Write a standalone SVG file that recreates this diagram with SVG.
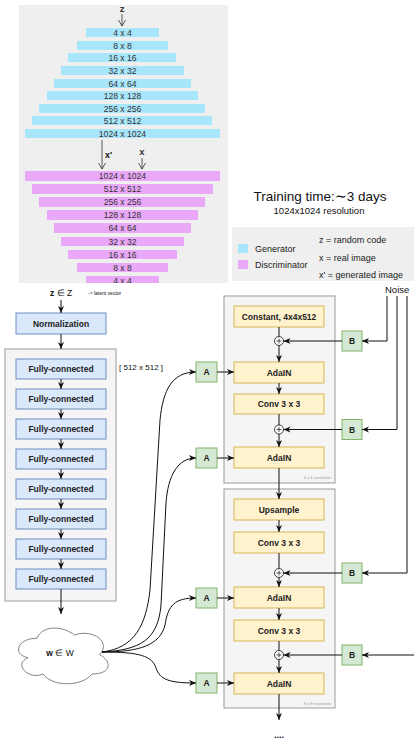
<svg xmlns="http://www.w3.org/2000/svg" width="414" height="740" viewBox="0 0 414 740">
<style>
text{font-family:"Liberation Sans",Arial,Helvetica,sans-serif;fill:#111}
.bar text,.pt{font-size:8.6px;fill:#333;text-anchor:middle}
.gen{fill:#a8e6fb}
.dis{fill:#eaa8f8}
.blue{fill:#dae8fc;stroke:#6c8ebf;stroke-width:1}
.yel{fill:#fff2cc;stroke:#d6b656;stroke-width:1}
.grn{fill:#d5e8d4;stroke:#82b366;stroke-width:1}
.cont{fill:#f5f5f5;stroke:#9a9a9a;stroke-width:1}
.lbl{font-size:8.5px;font-weight:bold;text-anchor:middle;fill:#222}
.ln{fill:none;stroke:#111;stroke-width:1}
.ar{marker-end:url(#ah)}
.thin{fill:none;stroke:#333;stroke-width:0.8;marker-end:url(#oh)}
.res{font-size:4px;fill:#999;text-anchor:end}
.leg{font-size:9px;fill:#222}
</style>
<defs>
<marker id="ah" markerUnits="userSpaceOnUse" markerWidth="8" markerHeight="8" viewBox="0 0 8 8" refX="7" refY="4" orient="auto">
<path d="M0,1 L7,4 L0,7 L2,4 Z" fill="#111"/>
</marker>
<marker id="oh" markerUnits="userSpaceOnUse" markerWidth="8" markerHeight="8" viewBox="0 0 8 8" refX="7" refY="4" orient="auto">
<path d="M1,0.5 L7,4 L1,7.5" fill="none" stroke="#333" stroke-width="0.8"/>
</marker>
<clipPath id="pc"><rect x="19" y="5" width="209" height="278"/></clipPath>
</defs>

<g id="training-panel" clip-path="url(#pc)">
<rect x="19" y="5" width="209" height="278" fill="#efefef"/>
<text x="122" y="12" class="pt" font-weight="bold" style="font-size:9.5px">z</text>
<path class="thin" d="M122,14 V26"/>
<g class="bar">
<rect class="gen" x="86" y="28" width="73" height="9"/><text x="122.5" y="35.8">4 x 4</text>
<rect class="gen" x="77" y="41" width="91" height="9"/><text x="122.5" y="48.8">8 x 8</text>
<rect class="gen" x="68" y="53" width="108" height="9"/><text x="122.5" y="60.8">16 x 16</text>
<rect class="gen" x="61" y="66" width="123" height="9"/><text x="122.5" y="73.8">32 x 32</text>
<rect class="gen" x="54" y="79" width="137" height="9"/><text x="122.5" y="86.8">64 x 64</text>
<rect class="gen" x="47" y="91" width="151" height="9"/><text x="122.5" y="98.8">128 x 128</text>
<rect class="gen" x="39" y="104" width="166" height="9"/><text x="122.5" y="111.8">256 x 256</text>
<rect class="gen" x="32" y="116" width="180" height="9"/><text x="122.5" y="123.8">512 x 512</text>
<rect class="gen" x="25" y="129" width="195" height="9"/><text x="122.5" y="136.8">1024 x 1024</text>
</g>
<path class="thin" d="M102,140 V169"/>
<text x="105" y="158" font-size="9px" fill="#333" font-weight="bold">x'</text>
<text x="142" y="155" class="pt" font-weight="bold" style="font-size:9.5px">x</text>
<path class="thin" d="M142,158 V169"/>
<g class="bar">
<rect class="dis" x="25" y="171" width="195" height="10"/><text x="122.5" y="179.3">1024 x 1024</text>
<rect class="dis" x="32" y="184" width="181" height="10"/><text x="122.5" y="192.3">512 x 512</text>
<rect class="dis" x="39" y="197" width="166" height="10"/><text x="122.5" y="205.3">256 x 256</text>
<rect class="dis" x="47" y="210" width="151" height="10"/><text x="122.5" y="218.3">128 x 128</text>
<rect class="dis" x="54" y="223" width="137" height="10"/><text x="122.5" y="231.3">64 x 64</text>
<rect class="dis" x="61" y="237" width="123" height="9"/><text x="122.5" y="244.8">32 x 32</text>
<rect class="dis" x="68" y="250" width="109" height="9"/><text x="122.5" y="257.8">16 x 16</text>
<rect class="dis" x="77" y="263" width="91" height="9"/><text x="122.5" y="270.8">8 x 8</text>
<rect class="dis" x="86" y="276" width="73" height="9"/><text x="122.5" y="283.8">4 x 4</text>
</g>
</g>

<g id="training-info">
<text x="320" y="201" font-size="13.5px" text-anchor="middle" fill="#111">Training time:∼3 days</text>
<text x="319" y="214" font-size="9.5px" text-anchor="middle" fill="#111">1024x1024 resolution</text>
</g>

<g id="legend">
<rect x="232" y="227" width="182" height="54" fill="#efefef"/>
<rect x="238" y="244" width="10" height="9" class="gen"/>
<rect x="238" y="260" width="10" height="9" class="dis"/>
<text x="255" y="252" class="leg">Generator</text>
<text x="255" y="268" class="leg">Discriminator</text>
<text x="319" y="243" class="leg">z = random code</text>
<text x="319" y="261" class="leg">x = real image</text>
<text x="319" y="278" class="leg">x' = generated image</text>
</g>

<g id="mapping-input">
<text x="61" y="296" font-size="8.5px" text-anchor="middle"><tspan font-weight="bold">z</tspan> ∈ Z</text>
<text x="88" y="295" font-size="5px" fill="#555">-&gt; latent vector</text>
</g>
<g id="mapping-container"><rect class="cont" x="5" y="349" width="111" height="252"/></g>
<g id="normalization"><rect class="blue" x="16" y="313" width="90" height="21"/><text class="lbl" x="61" y="326.5">Normalization</text></g>
<g id="fc1"><rect class="blue" x="16" y="359" width="90" height="20"/><text class="lbl" x="61" y="372">Fully-connected</text></g>
<g id="fc2"><rect class="blue" x="16" y="389" width="90" height="20"/><text class="lbl" x="61" y="402">Fully-connected</text></g>
<g id="fc3"><rect class="blue" x="16" y="419" width="90" height="20"/><text class="lbl" x="61" y="432">Fully-connected</text></g>
<g id="fc4"><rect class="blue" x="16" y="449" width="90" height="20"/><text class="lbl" x="61" y="462">Fully-connected</text></g>
<g id="fc5"><rect class="blue" x="16" y="479" width="90" height="20"/><text class="lbl" x="61" y="492">Fully-connected</text></g>
<g id="fc6"><rect class="blue" x="16" y="509" width="90" height="20"/><text class="lbl" x="61" y="522">Fully-connected</text></g>
<g id="fc7"><rect class="blue" x="16" y="539" width="90" height="20"/><text class="lbl" x="61" y="552">Fully-connected</text></g>
<g id="fc8"><rect class="blue" x="16" y="569" width="90" height="20"/><text class="lbl" x="61" y="582">Fully-connected</text></g>
<g id="fc-size"><text x="119" y="370" font-size="8px" fill="#333">[ 512 x 512 ]</text></g>

<g id="w-cloud">
<path d="M37,638.25 C17,638.25 12,654.5 28,657.75 C12,664.9 30,680.5 43,674 C52,687 82,687 92,674 C112,674 112,661 99.5,654.5 C112,641.5 92,628.5 74.5,635 C62,625.25 42,625.25 37,638.25 Z" fill="#fff" stroke="#666" stroke-width="0.8"/>
<text x="60" y="656" font-size="8.5px" text-anchor="middle" fill="#333"><tspan font-weight="bold">w</tspan> ∈ W</text>
</g>

<g id="block4"><rect class="cont" x="224" y="296" width="111" height="187"/><text class="res" x="331" y="479">4 x 4 resolution</text></g>
<g id="block8"><rect class="cont" x="224" y="489" width="111" height="219"/><text class="res" x="331" y="705">8 x 8 resolution</text></g>

<g id="constant"><rect class="yel" x="234" y="306" width="90" height="21"/><text class="lbl" x="279" y="319.5">Constant, 4x4x512</text></g>
<g id="adain1"><rect class="yel" x="234" y="362" width="90" height="21"/><text class="lbl" x="279" y="375.5">AdaIN</text></g>
<g id="conv1"><rect class="yel" x="234" y="394" width="90" height="20"/><text class="lbl" x="279" y="407">Conv 3 x 3</text></g>
<g id="adain2"><rect class="yel" x="234" y="447" width="90" height="21"/><text class="lbl" x="279" y="460.5">AdaIN</text></g>
<g id="upsample"><rect class="yel" x="234" y="499" width="90" height="21"/><text class="lbl" x="279" y="512.5">Upsample</text></g>
<g id="conv2"><rect class="yel" x="234" y="532" width="90" height="21"/><text class="lbl" x="279" y="545.5">Conv 3 x 3</text></g>
<g id="adain3"><rect class="yel" x="234" y="587" width="90" height="21"/><text class="lbl" x="279" y="600.5">AdaIN</text></g>
<g id="conv3"><rect class="yel" x="234" y="620" width="90" height="21"/><text class="lbl" x="279" y="633.5">Conv 3 x 3</text></g>
<g id="adain4"><rect class="yel" x="234" y="673" width="90" height="21"/><text class="lbl" x="279" y="686.5">AdaIN</text></g>

<g id="plus1"><circle cx="279" cy="341" r="4.5" fill="#fff" stroke="#111" stroke-width="0.8"/><path d="M276.5,341 H281.5 M279,338.5 V343.5" stroke="#111" stroke-width="0.7"/></g>
<g id="plus2"><circle cx="279" cy="429.5" r="4.5" fill="#fff" stroke="#111" stroke-width="0.8"/><path d="M276.5,429.5 H281.5 M279,427 V432" stroke="#111" stroke-width="0.7"/></g>
<g id="plus3"><circle cx="279" cy="573" r="4.5" fill="#fff" stroke="#111" stroke-width="0.8"/><path d="M276.5,573 H281.5 M279,570.5 V575.5" stroke="#111" stroke-width="0.7"/></g>
<g id="plus4"><circle cx="279" cy="655" r="4.5" fill="#fff" stroke="#111" stroke-width="0.8"/><path d="M276.5,655 H281.5 M279,652.5 V657.5" stroke="#111" stroke-width="0.7"/></g>

<g id="a1"><rect class="grn" x="196" y="362" width="21" height="20"/><text class="lbl" x="206.5" y="375">A</text></g>
<g id="a2"><rect class="grn" x="196" y="448" width="21" height="20"/><text class="lbl" x="206.5" y="461">A</text></g>
<g id="a3"><rect class="grn" x="196" y="588" width="21" height="20"/><text class="lbl" x="206.5" y="601">A</text></g>
<g id="a4"><rect class="grn" x="196" y="673" width="21" height="20"/><text class="lbl" x="206.5" y="686">A</text></g>

<g id="b1"><rect class="grn" x="342" y="331" width="20" height="20"/><text class="lbl" x="352" y="344">B</text></g>
<g id="b2"><rect class="grn" x="342" y="419.5" width="20" height="20"/><text class="lbl" x="352" y="432.5">B</text></g>
<g id="b3"><rect class="grn" x="342" y="563" width="20" height="20"/><text class="lbl" x="352" y="576">B</text></g>
<g id="b4"><rect class="grn" x="342" y="645" width="20" height="20"/><text class="lbl" x="352" y="658">B</text></g>

<g id="noise"><text x="385" y="293" font-size="9.5px" fill="#222">Noise</text></g>
<g id="dots"><text x="279" y="738" font-size="9px" font-weight="bold" text-anchor="middle">....</text></g>

<g id="connectors">
<path class="ln ar" d="M61,300 V313"/>
<path class="ln ar" d="M61,334 V349"/>
<path class="ln ar" d="M61,379 V389"/>
<path class="ln ar" d="M61,409 V419"/>
<path class="ln ar" d="M61,439 V449"/>
<path class="ln ar" d="M61,469 V479"/>
<path class="ln ar" d="M61,499 V509"/>
<path class="ln ar" d="M61,529 V539"/>
<path class="ln ar" d="M61,559 V569"/>
<path class="ln ar" d="M61,589 V614"/>

<path class="ln ar" d="M102,652 C135,648 146,625 150,590 L160,420 C163,390 172,372 196,372"/>
<path class="ln ar" d="M102,652 C140,650 158,640 161,605 L166,503 C168,475 178,458 196,458"/>
<path class="ln ar" d="M102,652 C140,652 160,645 165,625 C168,605 175,598 196,598"/>
<path class="ln ar" d="M102,652 C140,652 152,656 156,668 C160,680 170,683 196,683"/>

<path class="ln ar" d="M217,372 H234"/>
<path class="ln ar" d="M217,458 H234"/>
<path class="ln ar" d="M217,598 H234"/>
<path class="ln ar" d="M217,683 H234"/>

<path class="ln" d="M279,327 V336.5"/>
<path class="ln ar" d="M279,345.5 V362"/>
<path class="ln ar" d="M279,383 V394"/>
<path class="ln" d="M279,414 V425"/>
<path class="ln ar" d="M279,434 V447"/>
<path class="ln ar" d="M279,468 V499"/>
<path class="ln ar" d="M279,520 V532"/>
<path class="ln" d="M279,553 V568.5"/>
<path class="ln ar" d="M279,577.5 V587"/>
<path class="ln ar" d="M279,608 V620"/>
<path class="ln" d="M279,641 V650.5"/>
<path class="ln ar" d="M279,659.5 V673"/>
<path class="ln ar" d="M279,694 V720"/>

<path class="ln ar" d="M342,341 H283.5"/>
<path class="ln ar" d="M342,429.5 H283.5"/>
<path class="ln ar" d="M342,573 H283.5"/>
<path class="ln ar" d="M342,655 H283.5"/>

<path class="ln ar" d="M387,296 V341 H362"/>
<path class="ln ar" d="M397,296 V429.5 H362"/>
<path class="ln ar" d="M407,296 V573 H362"/>
<path class="ln ar" d="M414,655 H362"/>
</g>
</svg>
